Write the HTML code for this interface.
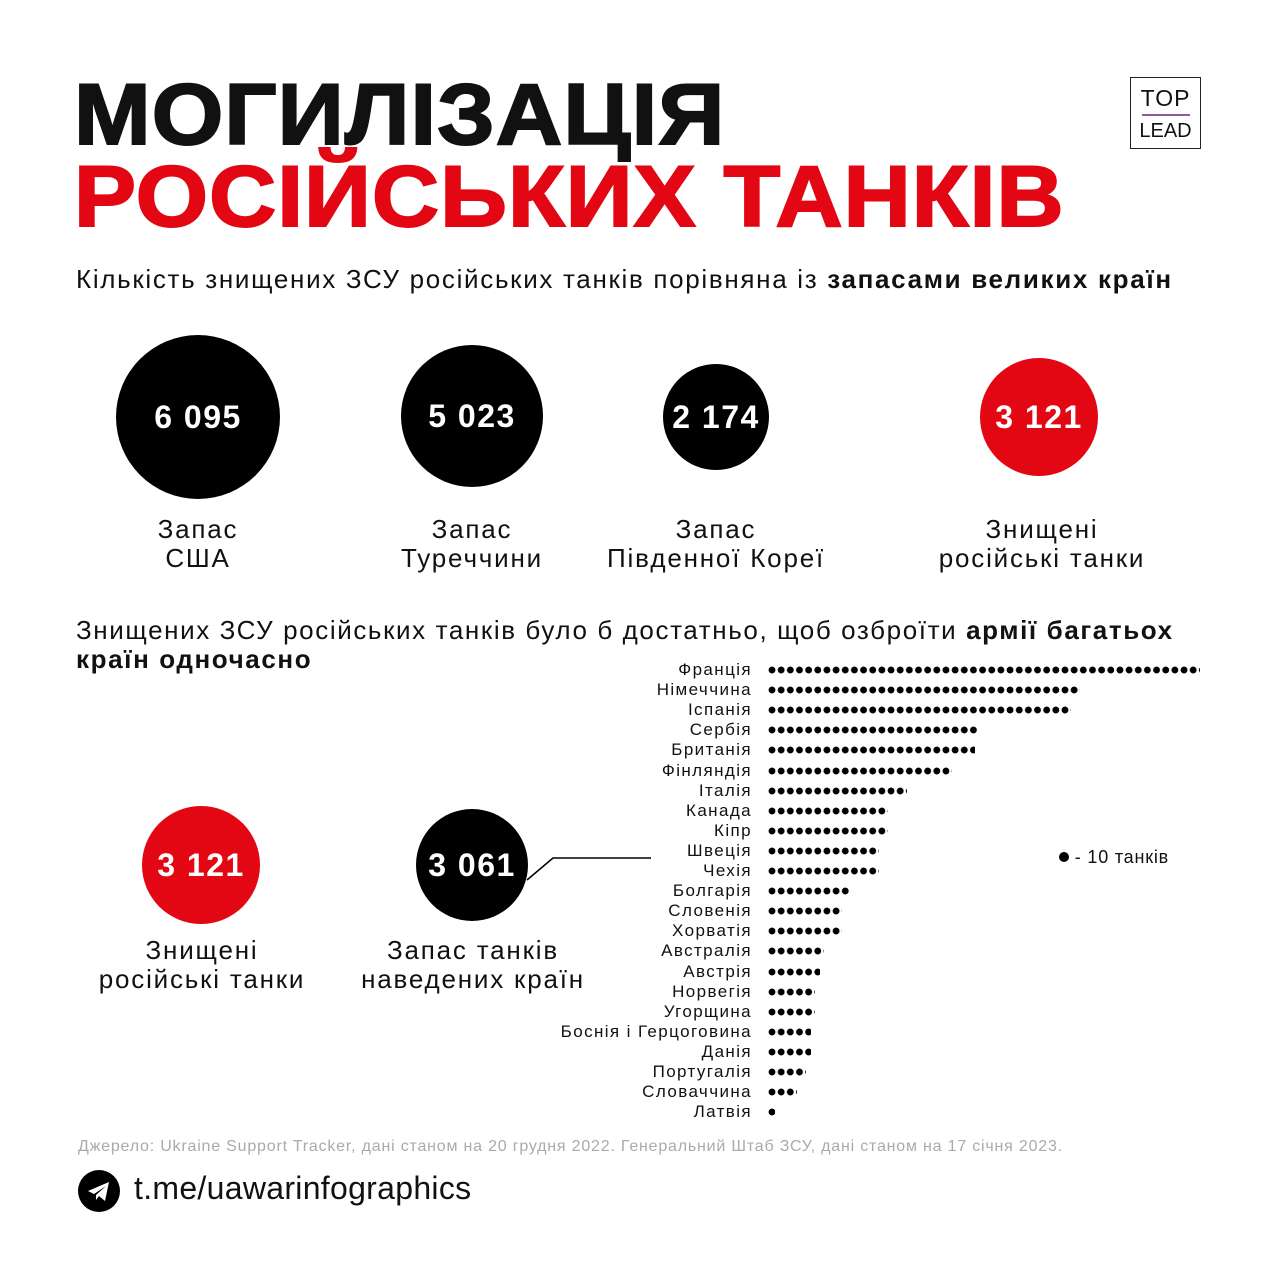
<!DOCTYPE html>
<html><head><meta charset="utf-8"><style>
body{margin:0;width:1279px;height:1280px;background:#fff;position:relative;font-family:"Liberation Sans",sans-serif;color:#111;overflow:hidden}
.a{position:absolute;white-space:nowrap}
.t{font-weight:900;font-size:86px;line-height:1;letter-spacing:1px;transform-origin:left top;-webkit-text-stroke:2px currentColor}
.c{position:absolute;border-radius:50%;display:flex;align-items:center;justify-content:center;color:#fff;font-weight:bold;letter-spacing:1.5px}
.lab{position:absolute;text-align:center;font-size:26px;line-height:29px;transform:translateX(-50%);white-space:nowrap;letter-spacing:1.8px}
.row{position:absolute;left:768px;height:8px;background:radial-gradient(circle at 4px 4px,#000 3.2px,transparent 3.6px);background-size:9.17px 8px;background-repeat:repeat-x}
.cn{position:absolute;right:527px;font-size:17px;line-height:20px;letter-spacing:1.4px}
</style></head><body>
<div class="a t" style="left:74px;top:72px;transform:scaleX(1.07)">МОГИЛІЗАЦІЯ</div>
<div class="a t" style="left:74px;top:154px;color:#e30613;transform:scaleX(1.08)">РОСІЙСЬКИХ ТАНКІВ</div>
<div class="a" style="left:1130px;top:77px;width:69px;height:70px;border:1.5px solid #222;text-align:center;font-size:23px;line-height:1">
<div style="margin-top:9px;letter-spacing:1px">TOP</div>
<div style="margin:4px auto 5px;width:48px;height:2px;background:#8a5a9e"></div>
<div style="font-size:20px">LEAD</div></div>
<div class="a" style="left:76px;top:264px;font-size:26px;letter-spacing:1.68px">Кількість знищених ЗСУ російських танків порівняна із <b>запасами великих країн</b></div>
<div class="c" style="left:116px;top:335px;width:164px;height:164px;background:#000;font-size:32px">6 095</div>
<div class="c" style="left:401px;top:345px;width:142px;height:142px;background:#000;font-size:32px">5 023</div>
<div class="c" style="left:663px;top:364px;width:106px;height:106px;background:#000;font-size:32px">2 174</div>
<div class="c" style="left:980px;top:358px;width:118px;height:118px;background:#e30613;font-size:32px">3 121</div>
<div class="lab" style="left:198px;top:515px">Запас<br>США</div>
<div class="lab" style="left:472px;top:515px">Запас<br>Туреччини</div>
<div class="lab" style="left:716px;top:515px">Запас<br>Південної Кореї</div>
<div class="lab" style="left:1042px;top:515px">Знищені<br>російські танки</div>
<div class="a" style="left:76px;top:616px;font-size:26px;line-height:29px;letter-spacing:1.6px">Знищених ЗСУ російських танків було б достатньо, щоб озброїти <b>армії багатьох</b><br><b>країн одночасно</b></div>
<div class="c" style="left:142px;top:806px;width:118px;height:118px;background:#e30613;font-size:32px">3 121</div>
<div class="c" style="left:416px;top:809px;width:112px;height:112px;background:#000;font-size:32px">3 061</div>
<svg class="a" style="left:520px;top:850px" width="140" height="40"><polyline points="7,30 33,8 131,8" fill="none" stroke="#000" stroke-width="1.5"/></svg>
<div class="lab" style="left:202px;top:936px">Знищені<br>російські танки</div>
<div class="lab" style="left:473px;top:936px">Запас танків<br>наведених країн</div>
<div class="a" style="left:1059px;top:847px;font-size:18px;letter-spacing:0.8px"><span style="display:inline-block;width:10px;height:10px;border-radius:50%;background:#000;vertical-align:1px"></span> - 10 танків</div>
<div id="ch"></div>
<div class="a" style="left:78px;top:1138px;font-size:16px;letter-spacing:0.8px;color:#aaa">Джерело: Ukraine Support Tracker, дані станом на 20 грудня 2022. Генеральний Штаб ЗСУ, дані станом на 17 січня 2023.</div>
<svg class="a" style="left:78px;top:1170px" width="42" height="42"><circle cx="21" cy="21" r="21" fill="#000"/><path d="M10 21 L31 12 L27 31 L21 26 L18 30 L18 25 L28 16 L16 24 Z" fill="#fff"/></svg>
<div class="a" style="left:134px;top:1170px;font-size:32px;letter-spacing:0.3px">t.me/uawarinfographics</div>
<script>
var d=[["Франція",1200],["Німеччина",1080],["Іспанія",1071],["Сербія",979],["Британія",975],["Фінляндія",952],["Італія",907],["Канада",888],["Кіпр",888],["Швеція",879],["Чехія",879],["Болгарія",851],["Словенія",842],["Хорватія",842],["Австралія",824],["Австрія",820],["Норвегія",815],["Угорщина",815],["Боснія і Герцоговина",811],["Данія",811],["Португалія",806],["Словаччина",797],["Латвія",775]];
var h="";d.forEach(function(r,i){var y=660+i*20.1;h+='<div class="cn" style="top:'+y+'px">'+r[0]+'</div><div class="row" style="top:'+(y+6)+'px;width:'+(r[1]-768)+'px"></div>';});
document.getElementById("ch").innerHTML=h;
</script>
</body></html>
